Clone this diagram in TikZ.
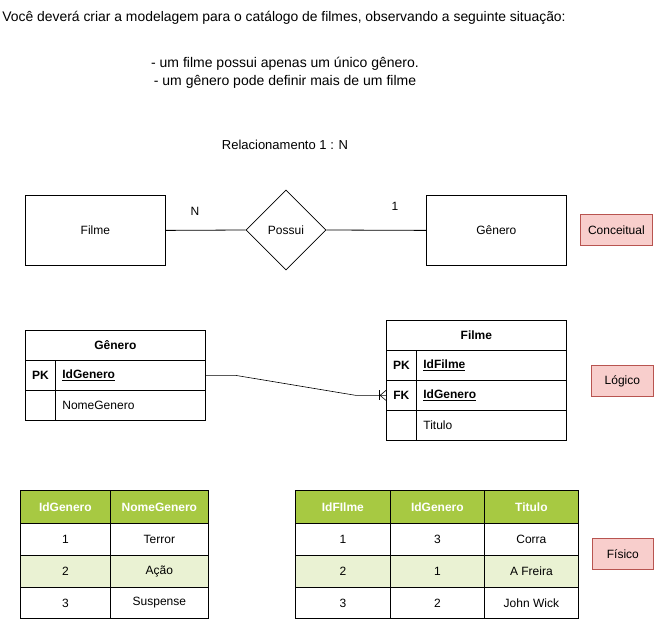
\documentclass[tikz,border=0pt]{standalone}
\usepackage{fontspec}
\setmainfont{Liberation Sans}
\usetikzlibrary{shapes.geometric,calc}
\definecolor{redfill}{HTML}{F8CECC}
\definecolor{redline}{HTML}{B85450}
\definecolor{hdrgreen}{HTML}{A7C942}
\definecolor{rowgreen}{HTML}{EAF2D3}
\tikzset{
  txt/.style={font=\fontsize{12}{14}\selectfont, inner sep=0pt},
  ent/.style={draw, minimum width=140pt, minimum height=70pt, inner sep=0pt, anchor=north west, font=\fontsize{12}{14}\selectfont},
  rel/.style={draw, diamond, minimum width=80pt, minimum height=80pt, inner sep=0pt, aspect=1, font=\fontsize{12}{14}\selectfont},
  tag/.style={draw=redline, fill=redfill, inner sep=0pt, anchor=north west, font=\fontsize{12}{14}\selectfont},
  cell/.style={draw, inner sep=0pt, anchor=north west, minimum height=30pt, font=\fontsize{12}{14}\selectfont},
  lcell/.style={cell, align=left, inner xsep=7pt, text width=136pt, minimum width=150pt},
  pcell/.style={draw, inner sep=0pt, anchor=north west, font=\fontsize{12}{14}\selectfont},
  phdr/.style={pcell, fill=hdrgreen, text=white, font=\fontsize{12}{14}\selectfont\bfseries},
}
\begin{document}
\begin{tikzpicture}[x=1pt,y=-1pt, line width=0.8pt]
\useasboundingbox (0,0) rectangle (661,620);
% texts
\node[txt, anchor=west, font=\fontsize{13.9}{16}\selectfont] (t1) at (2,18) {Você deverá criar a modelagem para o catálogo de filmes, observando a seguinte situação:};
\node[txt, align=center, font=\fontsize{14}{18}\selectfont] (t2) at (285,73) {- um filme possui apenas um único gênero.\\- um gênero pode definir mais de um filme};
\node[txt, font=\fontsize{13}{15}\selectfont] (t3) at (285,145) {Relacionamento 1 : N};
% conceptual
\node[ent] (filme) at (25,195) {Filme};
\node[rel] (possui) at (286,230) {Possui};
\node[ent] (genero) at (426,195) {Gênero};
\draw (filme.east) -- (possui.west);
\draw (possui.east) -- (genero.west);
\node[txt] (n) at (195,211) {N};
\node[txt] (um) at (395,206) {1};
\node[tag, minimum width=72pt, minimum height=31pt] (conc) at (580,214) {Conceitual};
% logical: Genero
\node[cell, minimum width=180pt, font=\fontsize{12}{14}\selectfont\bfseries] (gh) at (25,330) {Gênero};
\node[cell, minimum width=30pt, font=\fontsize{12}{14}\selectfont\bfseries] (gpk) at (25,360) {PK};
\node[lcell, font=\fontsize{12}{14}\selectfont\bfseries] (gid) at (55,360) {\underline{IdGenero}};
\node[cell, minimum width=30pt] (gpk2) at (25,390) {};
\node[lcell] (gnome) at (55,390) {NomeGenero};
% logical: Filme
\node[cell, minimum width=180pt, font=\fontsize{12}{14}\selectfont\bfseries] (fh) at (386,320) {Filme};
\node[cell, minimum width=30pt, font=\fontsize{12}{14}\selectfont\bfseries] (fpk) at (386,350) {PK};
\node[lcell, font=\fontsize{12}{14}\selectfont\bfseries] (fid) at (416,350) {\underline{IdFilme}};
\node[cell, minimum width=30pt, font=\fontsize{12}{14}\selectfont\bfseries] (ffk) at (386,380) {FK};
\node[lcell, font=\fontsize{12}{14}\selectfont\bfseries] (fgid) at (416,380) {\underline{IdGenero}};
\node[cell, minimum width=30pt] (fe) at (386,410) {};
\node[lcell] (ftit) at (416,410) {Titulo};
\node[tag, minimum width=62pt, minimum height=31pt] (log) at (591,365) {Lógico};
% connector
\draw[line width=0.6pt] (gid.east) -- ++(30,0) -- ($(ffk.west)+(-30,0)$) -- (ffk.west);
\draw[line width=0.6pt] ($(ffk.west)+(-7,-5)$) -- ($(ffk.west)+(-7,5)$);
\draw[line width=0.6pt] ($(ffk.west)+(0,-5)$) -- ($(ffk.west)+(-6,0)$) -- ($(ffk.west)+(0,5)$);
% physical: left
\node[phdr, minimum width=90pt, minimum height=33pt] (p1h1) at (20,490) {IdGenero};
\node[phdr, minimum width=98pt, minimum height=33pt] (p1h2) at (110,490) {NomeGenero};
\node[pcell, minimum width=90pt, minimum height=32pt] (p1a1) at (20,523) {1};
\node[pcell, minimum width=98pt, minimum height=32pt] (p1a2) at (110,523) {Terror};
\node[pcell, fill=rowgreen, minimum width=90pt, minimum height=32pt] (p1b1) at (20,555) {2};
\node[pcell, fill=rowgreen, minimum width=98pt, minimum height=32pt] (p1b2) at (110,555) {Ação};
\node[pcell, minimum width=90pt, minimum height=31pt] (p1c1) at (20,587) {3};
\node[pcell, minimum width=98pt, minimum height=31pt] (p1c2) at (110,587) {Suspense};
% physical: right
\node[phdr, minimum width=95pt, minimum height=33pt] (p2h1) at (295,490) {IdFIlme};
\node[phdr, minimum width=94pt, minimum height=33pt] (p2h2) at (390,490) {IdGenero};
\node[phdr, minimum width=94pt, minimum height=33pt] (p2h3) at (484,490) {Titulo};
\node[pcell, minimum width=95pt, minimum height=32pt] (p2a1) at (295,523) {1};
\node[pcell, minimum width=94pt, minimum height=32pt] (p2a2) at (390,523) {3};
\node[pcell, minimum width=94pt, minimum height=32pt] (p2a3) at (484,523) {Corra};
\node[pcell, fill=rowgreen, minimum width=95pt, minimum height=32pt] (p2b1) at (295,555) {2};
\node[pcell, fill=rowgreen, minimum width=94pt, minimum height=32pt] (p2b2) at (390,555) {1};
\node[pcell, fill=rowgreen, minimum width=94pt, minimum height=32pt] (p2b3) at (484,555) {A Freira};
\node[pcell, minimum width=95pt, minimum height=31pt] (p2c1) at (295,587) {3};
\node[pcell, minimum width=94pt, minimum height=31pt] (p2c2) at (390,587) {2};
\node[pcell, minimum width=94pt, minimum height=31pt] (p2c3) at (484,587) {John Wick};
\node[tag, minimum width=61pt, minimum height=31pt] (fis) at (592,538) {Físico};
\end{tikzpicture}
\end{document}
